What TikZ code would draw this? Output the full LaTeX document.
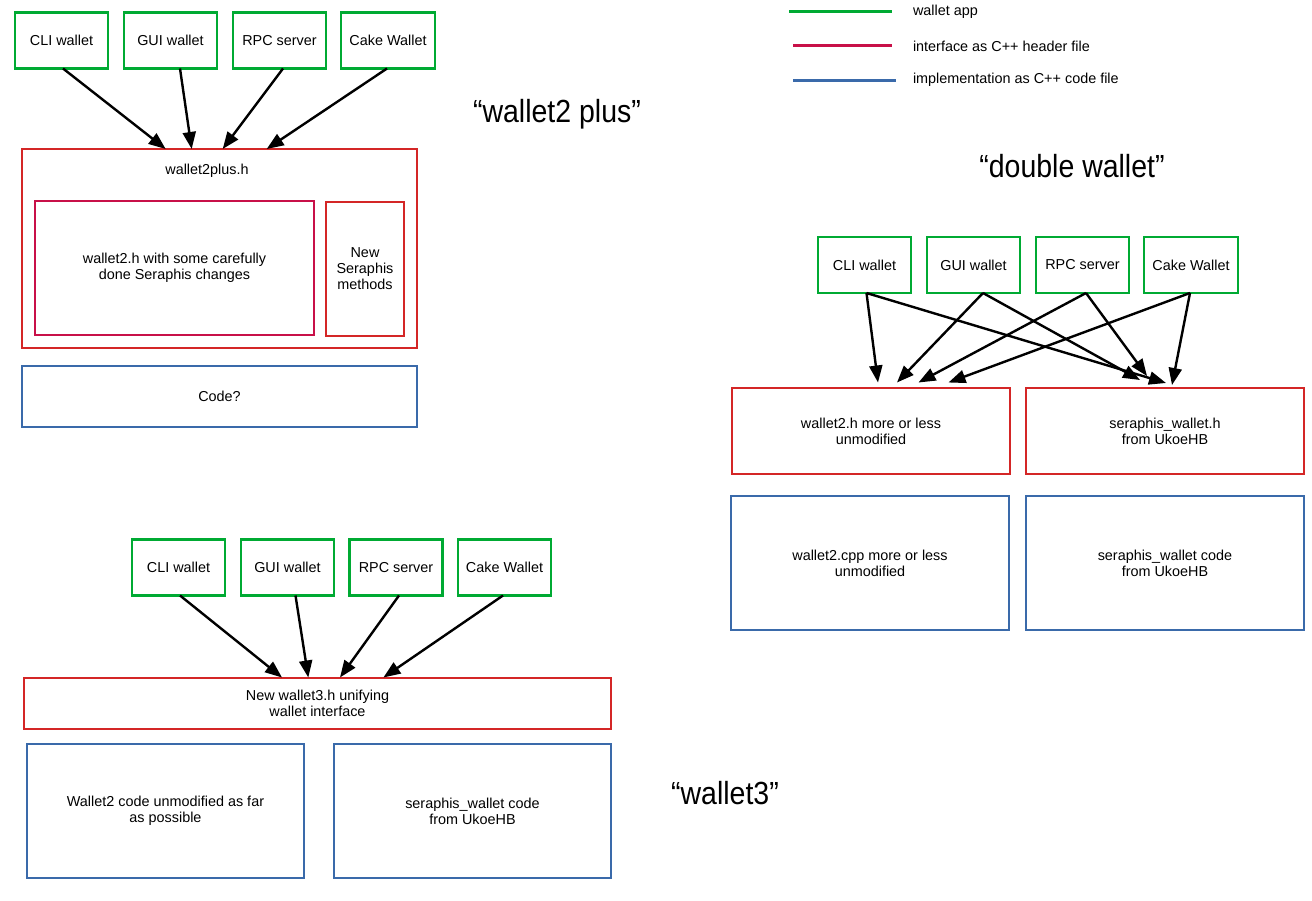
\documentclass[tikz,border=0pt]{standalone}
\usepackage{fontspec}
\setmainfont{Liberation Sans}
\usetikzlibrary{arrows.meta}
\definecolor{appgreen}{RGB}{0,170,51}
\definecolor{hdrred}{RGB}{212,38,38}
\definecolor{ifcrimson}{RGB}{200,16,72}
\definecolor{implblue}{RGB}{58,106,170}
\begin{document}
\begin{tikzpicture}[x=1pt,y=-1pt,
  every node/.style={font=\fontsize{14.4}{16}\selectfont, align=center, inner sep=0pt, outer sep=0pt},
  appbox/.style={draw=appgreen, line width=2.6pt, minimum width=93pt, minimum height=56pt},
  hdrbox/.style={draw=hdrred, line width=2.6pt},
  ifbox/.style={draw=ifcrimson, line width=2.6pt},
  implbox/.style={draw=implblue, line width=2.6pt},
  arr/.style={line width=2.4pt, -{Triangle[length=17pt,width=13pt]}},
  legline/.style={line width=3pt},
  title/.style={font=\fontsize{32}{36}\selectfont},
  legtext/.style={anchor=west}]
\useasboundingbox (0,0) rectangle (1312,901);

% ---------- legend ----------
\coordinate (lg1a) at (789,12);  \coordinate (lg1b) at (892,12);
\coordinate (lg2a) at (793,46);  \coordinate (lg2b) at (892,46);
\coordinate (lg3a) at (793,81);  \coordinate (lg3b) at (896,81);
\draw[legline, appgreen] (lg1a) -- (lg1b);
\draw[legline, ifcrimson] (lg2a) -- (lg2b);
\draw[legline, implblue] (lg3a) -- (lg3b);
\node[legtext] (lt1) at (913,12) {wallet app};
\node[legtext] (lt2) at (913,46) {interface as C++ header file};
\node[legtext] (lt3) at (913,80) {implementation as C++ code file};

% ---------- titles ----------
\node[title] (ti1) at (557,114) {\scalebox{0.89}[1]{“wallet2 plus”}};
\node[title] (ti2) at (1072,166) {\scalebox{0.89}[1]{“double wallet”}};
\node[title] (ti3) at (725,793) {\scalebox{0.89}[1]{“wallet3”}};

% ---------- wallet2 plus ----------
\node[appbox] (c1) at (61.5,40.5) {CLI wallet};
\node[appbox] (g1) at (170.5,40.5) {GUI wallet};
\node[appbox] (r1) at (279.5,40.5) {RPC server};
\node[appbox, minimum width=94pt] (k1) at (388,40.5) {Cake Wallet};
\node[hdrbox, minimum width=395pt, minimum height=199pt] (w2p) at (219.5,248.5) {};
\node (w2plabel) at (207,171) {wallet2plus.h};
\node[ifbox, minimum width=279pt, minimum height=134pt] (w2h) at (174.5,268) {wallet2.h with some carefully\\done Seraphis changes};
\node[hdrbox, minimum width=78pt, minimum height=134pt] (nsm) at (365,269) {New\\Seraphis\\methods};
\node[implbox, minimum width=395pt, minimum height=61pt] (code1) at (219.5,396.5) {Code?};
\coordinate (p1) at (165.7,149);
\coordinate (p2) at (191.7,149);
\coordinate (p3) at (222.7,149);
\coordinate (p4) at (266.7,149);
\draw[arr] ([xshift=1.5pt]c1.south) -- (p1);
\draw[arr] ([xshift=9.5pt]g1.south) -- (p2);
\draw[arr] ([xshift=3.5pt]r1.south) -- (p3);
\draw[arr] ([xshift=-1pt]k1.south) -- (p4);

% ---------- double wallet ----------
\node[appbox] (c2) at (864.5,265) {CLI wallet};
\node[appbox] (g2) at (973.5,265) {GUI wallet};
\node[appbox] (r2) at (1082.5,265) {RPC server};
\node[appbox, minimum width=94pt] (k2) at (1191,265) {Cake Wallet};
\node[hdrbox, minimum width=278pt, minimum height=86pt] (hl) at (871,431) {wallet2.h more or less\\unmodified};
\node[hdrbox, minimum width=278pt, minimum height=86pt] (hr) at (1165,431) {seraphis\_wallet.h\\from UkoeHB};
\node[implbox, minimum width=278pt, minimum height=134pt] (bl) at (870,563) {wallet2.cpp more or less\\unmodified};
\node[implbox, minimum width=278pt, minimum height=134pt] (br) at (1165,563) {seraphis\_wallet code\\from UkoeHB};
\coordinate (q1) at (878,382.5);
\coordinate (q2) at (897,382.5);
\coordinate (q3) at (918.5,382.5);
\coordinate (q4) at (948.5,382.5);
\coordinate (s1) at (1166,383);
\coordinate (s2) at (1140,380);
\coordinate (s3) at (1147,376);
\coordinate (s4) at (1172,385);
\draw[arr] ([xshift=2pt]c2.south) -- (q1);
\draw[arr] ([xshift=2pt]c2.south) -- (s1);
\draw[arr] ([xshift=9.5pt]g2.south) -- (q2);
\draw[arr] ([xshift=9.5pt]g2.south) -- (s2);
\draw[arr] ([xshift=3.5pt]r2.south) -- (q3);
\draw[arr] ([xshift=3.5pt]r2.south) -- (s3);
\draw[arr] ([xshift=-1pt]k2.south) -- (q4);
\draw[arr] ([xshift=-1pt]k2.south) -- (s4);

% ---------- wallet3 ----------
\node[appbox] (c3) at (178.5,567.5) {CLI wallet};
\node[appbox] (g3) at (287.5,567.5) {GUI wallet};
\node[appbox] (r3) at (396,567.5) {RPC server};
\node[appbox] (k3) at (504.5,567.5) {Cake Wallet};
\node[hdrbox, minimum width=587pt, minimum height=51pt] (w3h) at (317.5,703.5) {New wallet3.h unifying\\wallet interface};
\node[implbox, minimum width=277pt, minimum height=134pt] (w2c) at (165.5,811) {Wallet2 code unmodified as far\\as possible};
\node[implbox, minimum width=277pt, minimum height=134pt] (swc) at (472.5,811) {seraphis\_wallet code\\from UkoeHB};
\coordinate (u1) at (282,677.5);
\coordinate (u2) at (308.3,677.5);
\coordinate (u3) at (340,677.5);
\coordinate (u4) at (383.4,677.5);
\draw[arr] ([xshift=1.5pt]c3.south) -- (u1);
\draw[arr] ([xshift=8pt]g3.south) -- (u2);
\draw[arr] ([xshift=3pt]r3.south) -- (u3);
\draw[arr] ([xshift=-1.5pt]k3.south) -- (u4);
\end{tikzpicture}
\end{document}
